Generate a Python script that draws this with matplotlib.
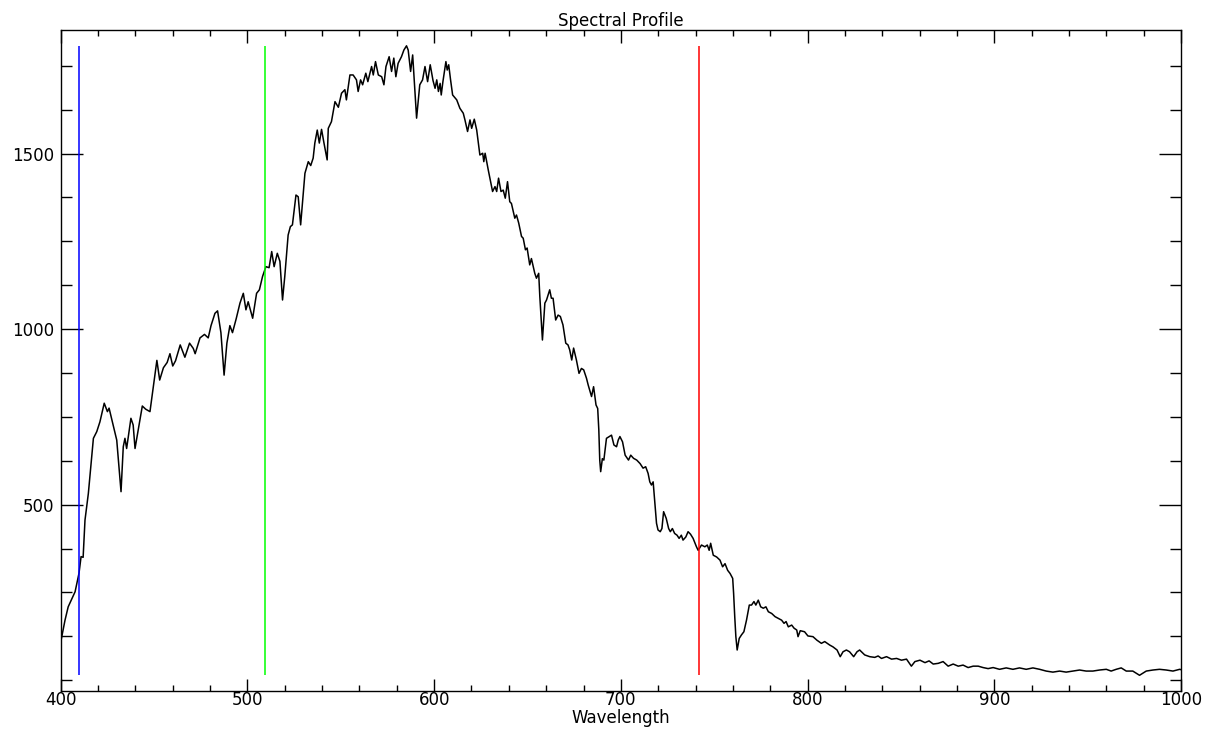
import matplotlib
matplotlib.use("Agg")
import matplotlib.pyplot as plt
from matplotlib.ticker import MultipleLocator

# spectrum
wavelength = [
    400.2, 402.3, 404.0, 407.7, 409.8, 410.9, 412.0, 413.0, 414.8, 417.5,
    419.3, 421.0, 423.3, 425.0, 425.9, 428.7, 430.0, 432.3, 433.5, 434.4,
    435.3, 437.6, 438.8, 439.8, 441.2, 443.7, 445.5, 447.8, 449.6, 451.5,
    453.0, 455.0, 457.0, 458.5, 460.0, 461.5, 464.0, 466.5, 469.0, 471.0,
    472.0, 474.6, 477.0, 479.0, 480.5, 482.6, 484.0, 485.8, 487.5, 489.0,
    490.6, 492.0, 494.0, 496.0, 497.8, 499.2, 500.4, 502.8, 504.9, 506.4,
    508.1, 509.9, 511.6, 513.0, 514.3, 516.0, 517.4, 518.8, 520.0, 521.8,
    523.0, 524.1, 526.0, 527.2, 528.5, 530.8, 532.6, 533.9, 535.2, 536.1,
    537.4, 538.5, 539.7, 541.0, 542.7, 543.3, 545.0, 546.9, 548.7, 550.4,
    552.2, 553.0, 554.9, 556.6, 558.4, 559.3, 560.6, 561.7, 563.4, 564.5,
    566.5, 567.4, 568.6, 570.1, 571.9, 573.1, 574.2, 575.9, 577.2, 578.4,
    579.5, 580.7, 582.5, 583.8, 585.2, 586.1, 587.4, 588.5, 590.6, 592.3,
    593.8, 595.1, 596.5, 597.9, 599.4, 600.5, 601.4, 602.3, 603.2, 603.8,
    604.7, 606.3, 607.0, 607.8, 608.8, 609.9, 612.1, 613.8, 615.6, 616.5,
    617.9, 619.2, 620.1, 621.5, 622.8, 624.5, 626.0, 626.6, 627.3, 629.0,
    631.3, 632.6, 633.5, 634.5, 635.8, 637.0, 638.1, 639.3, 640.5, 641.4,
    643.2, 644.1, 645.3, 646.8, 647.7, 648.9, 649.8, 651.2, 652.1, 653.9,
    654.8, 656.0, 656.6, 658.0, 659.3, 660.2, 661.9, 662.8, 663.7, 665.1,
    666.4, 667.6, 669.0, 670.5, 671.7, 672.6, 673.7, 674.7, 676.2, 677.6,
    678.9, 680.1, 681.6, 682.5, 684.3, 685.4, 686.7, 687.6, 688.2, 688.7,
    689.2, 690.1, 690.9, 692.3, 693.8, 695.0, 696.3, 697.7, 698.6, 699.5,
    700.9, 702.3, 704.1, 705.3, 706.8, 708.5, 710.3, 711.9, 713.3, 714.6,
    715.5, 716.4, 717.3, 718.2, 719.1, 719.9, 721.1, 722.0, 722.9, 724.3,
    725.6, 726.5, 727.6, 728.8, 730.1, 731.2, 732.4, 733.3, 734.8, 736.0,
    737.3, 738.7, 740.5, 741.4, 743.2, 745.0, 746.3, 747.3, 748.1, 749.5,
    751.3, 753.1, 754.5, 755.8, 757.2, 758.5, 759.9, 760.4, 761.0, 761.6,
    762.3, 763.4, 764.6, 765.9, 767.3, 768.8, 770.0, 771.3, 772.3, 773.6,
    774.9, 776.3, 777.7, 779.0, 780.8, 782.6, 784.4, 786.1, 787.4, 788.5,
    789.7, 791.5, 792.8, 794.2, 794.9, 796.1, 798.4, 800.2, 802.9, 805.0,
    807.4, 809.2, 811.9, 813.6, 815.8, 817.5, 819.0, 820.8, 822.5, 824.7,
    826.5, 827.9, 830.6, 833.3, 836.0, 837.8, 839.6, 842.3, 845.0, 847.7,
    850.3, 853.0, 855.6, 857.5, 860.2, 862.9, 865.1, 867.3, 870.0, 872.6,
    875.3, 878.0, 880.7, 883.3, 886.0, 888.7, 891.4, 894.0, 896.7, 899.4,
    902.8, 906.4, 910.0, 913.5, 917.1, 920.7, 924.3, 927.8, 931.4, 935.0,
    938.5, 942.1, 945.7, 949.2, 952.8, 956.4, 960.0, 962.6, 965.3, 968.0,
    970.7, 974.2, 977.8, 981.4, 985.0, 988.5, 992.1, 995.7, 999.3, 1000.0,
]
counts = [
    114, 171, 209, 252, 305, 352, 350, 456, 532, 689,
    708, 736, 789, 765, 775, 713, 684, 537, 665, 689,
    660, 746, 727, 660, 703, 781, 772, 765, 836, 911,
    855, 890, 905, 930, 895, 910, 955, 920, 960, 945,
    930, 975, 985, 975, 1010, 1045, 1052, 990, 869, 960,
    1010, 990, 1030, 1074, 1102, 1055, 1078, 1031, 1102, 1112,
    1150, 1178, 1175, 1221, 1178, 1216, 1193, 1083, 1150, 1268,
    1292, 1297, 1382, 1377, 1297, 1444, 1477, 1466, 1487, 1530,
    1567, 1530, 1569, 1530, 1482, 1572, 1591, 1648, 1632, 1672,
    1682, 1653, 1724, 1724, 1710, 1677, 1710, 1696, 1729, 1705,
    1748, 1724, 1762, 1724, 1719, 1696, 1748, 1776, 1734, 1772,
    1719, 1757, 1776, 1795, 1807, 1795, 1734, 1781, 1601, 1696,
    1710, 1748, 1705, 1753, 1708, 1686, 1710, 1677, 1700, 1667,
    1705, 1762, 1738, 1753, 1710, 1667, 1653, 1629, 1615, 1596,
    1563, 1596, 1572, 1598, 1567, 1496, 1501, 1477, 1501, 1453,
    1392, 1406, 1392, 1430, 1392, 1396, 1373, 1420, 1363, 1358,
    1316, 1325, 1302, 1264, 1259, 1226, 1231, 1183, 1201, 1159,
    1145, 1159, 1093, 969, 1074, 1083, 1112, 1088, 1088, 1026,
    1040, 1036, 1012, 960, 955, 941, 912, 946, 912, 874,
    888, 884, 860, 841, 808, 836, 784, 774, 713, 627,
    594, 631, 627, 689, 694, 698, 670, 665, 684, 694,
    679, 641, 627, 641, 632, 627, 617, 604, 608, 589,
    565, 556, 565, 504, 447, 428, 423, 432, 480, 461,
    432, 423, 432, 418, 413, 404, 413, 399, 408, 423,
    416, 404, 380, 370, 385, 380, 385, 370, 390, 356,
    351, 342, 323, 332, 313, 304, 290, 247, 181, 124,
    86, 119, 129, 138, 171, 214, 214, 224, 214, 228,
    209, 205, 209, 195, 190, 181, 176, 171, 162, 167,
    152, 157, 148, 143, 124, 141, 138, 126, 124, 114,
    105, 110, 100, 95, 86, 67, 81, 86, 81, 67,
    81, 86, 72, 67, 65, 69, 62, 67, 60, 62,
    57, 60, 40, 53, 57, 50, 55, 46, 48, 53,
    40, 46, 40, 43, 36, 40, 40, 36, 33, 36,
    31, 35, 31, 35, 31, 35, 31, 26, 23, 26,
    23, 26, 29, 26, 26, 29, 31, 26, 31, 35,
    26, 26, 14, 26, 29, 31, 29, 26, 31, 30,
]

# band markers
band_wl = [410.0, 509.2, 741.6]
band_colors = ["#0000ff", "#00ff00", "#ff0000"]

fig = plt.figure(figsize=(12.12, 7.29), dpi=100)
ax = fig.add_axes([0.0501, 0.0525, 0.9243, 0.9068])

ax.plot(wavelength, counts, color="black", linewidth=1.1)
ymin, ymax = min(counts), max(counts)
for wl, c in zip(band_wl, band_colors):
    ax.vlines(wl, ymin, ymax, color=c, linewidth=1.1)

ax.set_xlim(400, 1000)
ax.set_ylim(-30, 1853)
ax.xaxis.set_major_locator(MultipleLocator(100))
ax.xaxis.set_minor_locator(MultipleLocator(20))
ax.yaxis.set_major_locator(MultipleLocator(500))
ax.yaxis.set_minor_locator(MultipleLocator(125))
ax.set_yticks([500, 1000, 1500])

ax.tick_params(axis="x", which="major", direction="in", length=9, width=1,
               top=True, labelsize=12, pad=0)
ax.tick_params(axis="x", which="minor", direction="in", length=4.5, width=1, top=True)
ax.tick_params(axis="y", which="major", direction="in", length=16, width=1,
               right=True, labelsize=12, pad=5)
ax.tick_params(axis="y", which="minor", direction="in", length=8, width=1, right=True)
for s in ax.spines.values():
    s.set_linewidth(1.0)

ax.set_title("Spectral Profile", fontsize=12, pad=3)
ax.set_xlabel("Wavelength", fontsize=12, labelpad=0)

fig.savefig("out.png", dpi=100)
